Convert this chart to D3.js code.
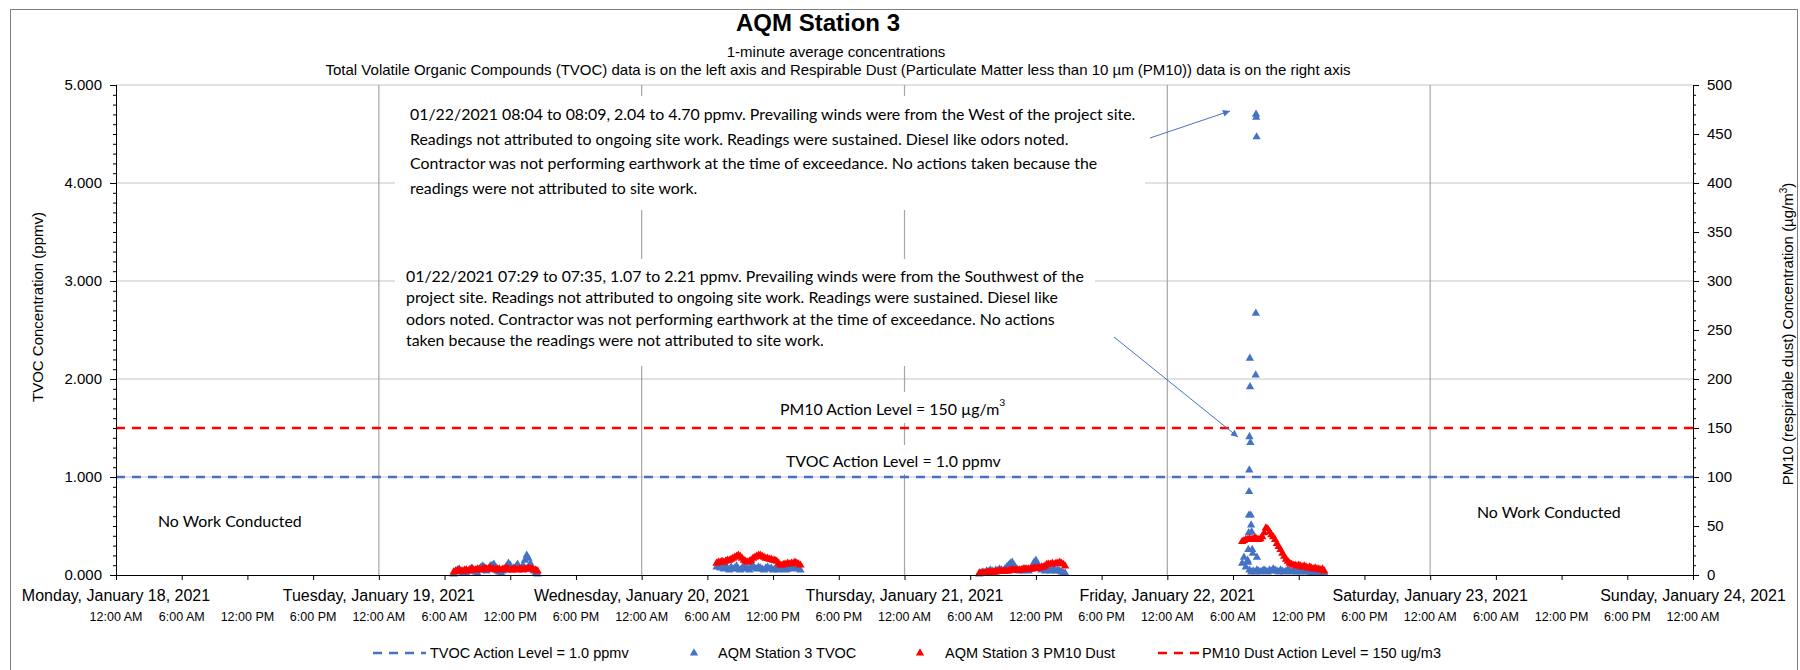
<!DOCTYPE html>
<html>
<head>
<meta charset="utf-8">
<script src="https://cdn.jsdelivr.net/npm/d3@7"></script>
<style>
  body { margin: 0; background: #fff; }
  text { font-family: "Liberation Sans", Arial, sans-serif; fill: #000; }
  .note { font-family: Lato, "Open Sans", sans-serif; }
</style>
</head>
<body>
<div id="chart"></div>
<script>
// ---------------- data ----------------
// days on the axis (midnights)
var dayStarts = ["2021-01-18", "2021-01-19", "2021-01-20", "2021-01-21", "2021-01-22", "2021-01-23", "2021-01-24"];

// work days, readings every 10 minutes starting at 06:50
var workDays = ["2021-01-19", "2021-01-20", "2021-01-21", "2021-01-22"];
var readingStart = "06:50";
var readingStepMin = 10;

// TVOC (ppmv)
var tvocJan19 = [0.01,0.03,0.05,0.06,0.04,0.02,0.03,0.02,0.04,0.06,0.07,0.05,0.03,0.02,0.05,0.08,0.09,0.07,0.04,0.06,0.09,0.10,0.11,0.08,0.04,0.03,0.02,0.04,0.06,0.09,0.12,0.10,0.06,0.07,0.08,0.11,0.07,0.06,0.10,0.15,0.20,0.17,0.12,0.07,0.04,0.02,0.01];
var tvocJan20 = [0.08,0.10,0.07,0.09,0.06,0.08,0.07,0.05,0.08,0.06,0.07,0.09,0.06,0.05,0.07,0.08,0.06,0.07,0.05,0.08,0.09,0.07,0.06,0.08,0.07,0.06,0.05,0.07,0.08,0.06,0.07,0.05,0.06,0.07,0.05,0.06,0.07,0.06,0.05,0.06,0.07,0.06,0.08,0.10,0.07,0.06,0.05];
var tvocJan21 = [0.01,0.02,0.03,0.02,0.04,0.03,0.05,0.04,0.03,0.05,0.04,0.06,0.05,0.04,0.06,0.08,0.10,0.12,0.13,0.10,0.07,0.05,0.04,0.05,0.04,0.06,0.05,0.04,0.06,0.09,0.13,0.15,0.11,0.07,0.05,0.06,0.04,0.05,0.06,0.04,0.05,0.06,0.04,0.05,0.04,0.03,0.02,0.02];
var tvocJan22 = [0.12,0.18,0.08,0.15,0.05,0.03,0.04,0.03,0.05,0.04,0.03,0.04,0.05,0.04,0.03,0.05,0.04,0.06,0.05,0.04,0.03,0.05,0.04,0.03,0.04,0.05,0.04,0.03,0.04,0.05,0.03,0.04,0.03,0.04,0.05,0.03,0.04,0.03,0.02,0.03,0.04,0.03,0.02,0.03,0.02,0.02];

// 1-minute TVOC readings around the two exceedances on 01/22
var tvocPeakTimes  = ["07:22","07:24","07:26","07:27","07:28","07:29","07:30","07:32","07:33","07:35","07:37","07:39","07:42","07:45","07:48","08:04","08:05","08:06","08:07","08:09","08:11"];
var tvocPeakValues = [0.13, 0.26, 0.43, 0.61, 0.85, 1.07, 1.41, 2.21, 1.92, 1.35, 0.61, 0.51, 0.44, 0.26, 0.22, 2.04, 2.67, 4.70, 4.67, 4.47, 0.18];

// PM10 (ug/m3)
var pm10Jan19 = [3,4,4,5,4,4,5,5,4,5,6,5,5,6,6,5,6,7,6,6,7,6,6,5,6,6,5,6,6,7,6,5,5,6,6,5,6,6,5,6,6,7,6,6,5,5,4];
var pm10Jan20 = [12,13,13,14,13,14,15,15,16,17,18,19,20,19,17,15,14,13,14,15,17,18,19,20,20,19,18,17,17,16,16,15,15,14,12,10,10,11,11,12,11,12,12,13,12,11,10];
var pm10Jan21 = [2,2,2,2,3,3,3,3,3,3,4,4,4,4,4,4,4,5,5,5,5,5,5,5,6,6,6,6,6,6,7,7,7,7,8,8,9,11,11,11,12,11,12,12,13,12,11,9];
var pm10Jan22 = [34,35,36,36,37,36,37,38,37,36,37,39,43,48,47,44,41,39,36,32,29,26,22,19,16,14,12,11,10,10,9,10,9,8,9,8,7,8,7,6,7,6,6,5,6,4];

var tvocActionLevel = 1.0;
var pm10ActionLevel = 150;

var leftTicks = [0, 1, 2, 3, 4, 5];
var rightTicks = [0, 50, 100, 150, 200, 250, 300, 350, 400, 450, 500];

var note1Lines = [
  "01/22/2021 08:04 to 08:09, 2.04 to 4.70 ppmv. Prevailing winds were from the West of the project site.",
  "Readings not attributed to ongoing site work. Readings were sustained. Diesel like odors noted.",
  "Contractor was not performing earthwork at the time of exceedance. No actions taken because the",
  "readings were not attributed to site work."
];
var note2Lines = [
  "01/22/2021 07:29 to 07:35, 1.07 to 2.21 ppmv. Prevailing winds were from the Southwest of the",
  "project site. Readings not attributed to ongoing site work. Readings were sustained. Diesel like",
  "odors noted. Contractor was not performing earthwork at the time of exceedance. No actions",
  "taken because the readings were not attributed to site work."
];
var legendLabels = ["TVOC Action Level = 1.0 ppmv", "AQM Station 3 TVOC", "AQM Station 3 PM10 Dust", "PM10 Dust Action Level = 150 ug/m3"];

(function(){

  var width = 1800, height = 670;
  var plot = {left: 116, right: 1693, top: 85, bottom: 575};
  var blue = "#4472C4", red = "#FF0000";

  var parseDay = d3.timeParse("%Y-%m-%d");
  var parseTime = d3.timeParse("%Y-%m-%d %H:%M");

  var svg = d3.select("#chart").append("svg")
    .attr("width", width)
    .attr("height", height);

  // outer chart border
  svg.append("rect")
    .attr("x", 10.5).attr("y", 9.5)
    .attr("width", 1787).attr("height", 700)
    .attr("fill", "none")
    .attr("stroke", "#7f7f7f");

  var days = dayStarts.map(parseDay);

  var x = d3.scaleTime()
    .domain([days[0], days[days.length - 1]])
    .range([plot.left, plot.right]);
  var yL = d3.scaleLinear().domain([0, 5]).range([plot.bottom, plot.top]);
  var yR = d3.scaleLinear().domain([0, 500]).range([plot.bottom, plot.top]);

  // turn the 10-minute arrays into points
  function toPoints(day, values) {
    var t0 = parseTime(day + " " + readingStart);
    return values.map(function(v, i) {
      return {t: d3.timeMinute.offset(t0, i * readingStepMin), v: v};
    });
  }
  var tvocSeries = [tvocJan19, tvocJan20, tvocJan21, tvocJan22];
  var pm10Series = [pm10Jan19, pm10Jan20, pm10Jan21, pm10Jan22];
  var tvocPoints = [], pm10Points = [];
  workDays.forEach(function(day, i) {
    tvocPoints = tvocPoints.concat(toPoints(day, tvocSeries[i]));
    pm10Points = pm10Points.concat(toPoints(day, pm10Series[i]));
  });
  tvocPeakTimes.forEach(function(t, i) {
    tvocPoints.push({t: parseTime("2021-01-22 " + t), v: tvocPeakValues[i]});
  });

  // gridlines
  svg.append("g").selectAll("line")
    .data(leftTicks.slice(1))
    .join("line")
    .attr("x1", plot.left).attr("x2", plot.right)
    .attr("y1", function(d){ return yL(d); })
    .attr("y2", function(d){ return yL(d); })
    .attr("stroke", "#d9d9d9")
    .attr("stroke-width", 1.3);

  svg.append("g").selectAll("line")
    .data(days.slice(1, -1))
    .join("line")
    .attr("x1", function(d){ return x(d); })
    .attr("x2", function(d){ return x(d); })
    .attr("y1", plot.top).attr("y2", plot.bottom)
    .attr("stroke", "#a6a6a6")
    .attr("stroke-width", 1.2);

  // white text boxes hide the gridlines behind the notes
  var boxes = [
    [395, 96, 750, 114],
    [395, 259, 700, 107],
    [772, 392, 240, 31],
    [772, 445, 240, 29]
  ];
  svg.append("g").selectAll("rect")
    .data(boxes)
    .join("rect")
    .attr("x", function(d){ return d[0]; })
    .attr("y", function(d){ return d[1]; })
    .attr("width", function(d){ return d[2]; })
    .attr("height", function(d){ return d[3]; })
    .attr("fill", "#fff");

  // action levels
  svg.append("line")
    .attr("x1", plot.left).attr("x2", plot.right)
    .attr("y1", yL(tvocActionLevel)).attr("y2", yL(tvocActionLevel))
    .attr("stroke", blue).attr("stroke-width", 2.5)
    .attr("stroke-dasharray", "9,7");
  svg.append("line")
    .attr("x1", plot.left).attr("x2", plot.right)
    .attr("y1", yR(pm10ActionLevel)).attr("y2", yR(pm10ActionLevel))
    .attr("stroke", red).attr("stroke-width", 2.5)
    .attr("stroke-dasharray", "9,7");

  // markers
  var tri = d3.symbol().type(d3.symbolTriangle).size(30);

  svg.append("g").selectAll("path")
    .data(tvocPoints)
    .join("path")
    .attr("d", tri)
    .attr("transform", function(d){ return "translate(" + x(d.t) + "," + yL(d.v) + ")"; })
    .attr("fill", blue);

  svg.append("g").selectAll("path")
    .data(pm10Points)
    .join("path")
    .attr("d", tri)
    .attr("transform", function(d){ return "translate(" + x(d.t) + "," + yR(d.v) + ")"; })
    .attr("fill", red);

  // axes
  function styleAxis(g, size) {
    g.select(".domain").attr("stroke", "#000");
    g.selectAll(".tick line").attr("stroke", "#000");
    g.selectAll(".tick text").style("font-size", size + "px").attr("fill", "#000");
  }

  svg.append("g")
    .attr("transform", "translate(" + plot.left + ",0)")
    .call(d3.axisLeft(yL).tickValues(d3.range(0, 51).map(function(d){ return d / 10; })).tickSize(3).tickFormat(""))
    .call(styleAxis, 15);
  svg.append("g")
    .attr("transform", "translate(" + plot.left + ",0)")
    .call(d3.axisLeft(yL).tickValues(leftTicks).tickSize(6).tickPadding(8).tickFormat(d3.format(".3f")))
    .call(styleAxis, 15);

  svg.append("g")
    .attr("transform", "translate(" + plot.right + ",0)")
    .call(d3.axisRight(yR).tickValues(d3.range(0, 51).map(function(d){ return d * 10; })).tickSize(3).tickFormat(""))
    .call(styleAxis, 15);
  svg.append("g")
    .attr("transform", "translate(" + plot.right + ",0)")
    .call(d3.axisRight(yR).tickValues(rightTicks).tickSize(6).tickPadding(8))
    .call(styleAxis, 15);

  var sixHours = d3.timeHour.every(6).range(days[0], d3.timeMinute.offset(days[days.length - 1], 1));
  svg.append("g")
    .attr("transform", "translate(0," + plot.bottom + ")")
    .call(d3.axisBottom(x).tickValues(sixHours).tickSize(5).tickFormat(""))
    .call(styleAxis, 12);

  var timeFmt = d3.timeFormat("%-I:%M %p");
  svg.append("g").selectAll("text")
    .data(sixHours)
    .join("text")
    .attr("x", function(d){ return x(d); })
    .attr("y", 621)
    .attr("text-anchor", "middle")
    .style("font-size", "12.5px")
    .text(function(d){ return timeFmt(d); });

  var dayFmt = d3.timeFormat("%A, %B %-d, %Y");
  svg.append("g").selectAll("text")
    .data(days)
    .join("text")
    .attr("x", function(d){ return x(d); })
    .attr("y", 601)
    .attr("text-anchor", "middle")
    .style("font-size", "16px")
    .text(function(d){ return dayFmt(d); });

  // axis titles
  svg.append("text")
    .attr("transform", "translate(43,307) rotate(-90)")
    .attr("text-anchor", "middle")
    .style("font-size", "15px")
    .text("TVOC Concentration (ppmv)");

  var rt = svg.append("text")
    .attr("transform", "translate(1793,334) rotate(-90)")
    .attr("text-anchor", "middle")
    .style("font-size", "15px");
  rt.append("tspan").text("PM10 (respirable dust) Concentration (µg/m");
  rt.append("tspan").attr("dy", -6).style("font-size", "10px").text("3");
  rt.append("tspan").attr("dy", 6).text(")");

  // titles
  svg.append("text")
    .attr("x", 818).attr("y", 31)
    .attr("text-anchor", "middle")
    .style("font-size", "24px").style("font-weight", "bold")
    .text("AQM Station 3");
  svg.append("text")
    .attr("x", 836).attr("y", 57)
    .attr("text-anchor", "middle")
    .style("font-size", "15px")
    .text("1-minute average concentrations");
  svg.append("text")
    .attr("x", 838).attr("y", 75)
    .attr("text-anchor", "middle")
    .style("font-size", "15px")
    .text("Total Volatile Organic Compounds (TVOC) data is on the left axis and Respirable Dust (Particulate Matter less than 10 µm (PM10)) data is on the right axis");

  // notes: fit the font so the first line has the width seen on the chart
  var probe = svg.append("text").attr("class", "note").style("font-size", "15px").text(note1Lines[0]);
  var noteSize = 15 * 726 / probe.node().getComputedTextLength();
  probe.remove();

  function noteText(lines, x0, y0, dy) {
    svg.append("g").selectAll("text")
      .data(lines)
      .join("text")
      .attr("class", "note")
      .attr("x", x0)
      .attr("y", function(d, i){ return y0 + i * dy; })
      .attr("dominant-baseline", "central")
      .style("font-size", noteSize + "px")
      .text(function(d){ return d; });
  }
  noteText(note1Lines, 410, 113.5, 24.5);
  noteText(note2Lines, 406, 275, 21.5);

  var pmLabel = svg.append("text").attr("class", "note")
    .attr("x", 780).attr("y", 408)
    .attr("dominant-baseline", "central")
    .style("font-size", noteSize + "px");
  pmLabel.append("tspan").text("PM10 Action Level = 150 µg/m");
  pmLabel.append("tspan").attr("dy", -6).style("font-size", (noteSize * 0.65) + "px").text("3");

  svg.append("text").attr("class", "note")
    .attr("x", 786).attr("y", 460)
    .attr("dominant-baseline", "central")
    .style("font-size", noteSize + "px")
    .text("TVOC Action Level = 1.0 ppmv");

  svg.append("text").attr("class", "note")
    .attr("x", 158).attr("y", 520)
    .attr("dominant-baseline", "central")
    .style("font-size", noteSize + "px")
    .text("No Work Conducted");
  svg.append("text").attr("class", "note")
    .attr("x", 1477).attr("y", 511)
    .attr("dominant-baseline", "central")
    .style("font-size", noteSize + "px")
    .text("No Work Conducted");

  // arrows
  svg.append("defs").append("marker")
    .attr("id", "head")
    .attr("viewBox", "0 0 10 10")
    .attr("refX", 10).attr("refY", 5)
    .attr("markerWidth", 9).attr("markerHeight", 7)
    .attr("markerUnits", "userSpaceOnUse")
    .attr("orient", "auto")
    .append("path")
    .attr("d", "M0,0L10,5L0,10z")
    .attr("fill", blue);

  [[1150, 138, 1230, 111], [1114, 337, 1238, 437]].forEach(function(a) {
    svg.append("line")
      .attr("x1", a[0]).attr("y1", a[1])
      .attr("x2", a[2]).attr("y2", a[3])
      .attr("stroke", blue).attr("stroke-width", 1)
      .attr("marker-end", "url(#head)");
  });

  // legend
  var ly = 653;
  var lg = svg.append("g").style("font-size", "14.5px");
  lg.append("line").attr("x1", 373).attr("x2", 426).attr("y1", ly).attr("y2", ly)
    .attr("stroke", blue).attr("stroke-width", 2.5).attr("stroke-dasharray", "9,7");
  lg.append("text").attr("x", 430).attr("y", ly).attr("dominant-baseline", "central").text(legendLabels[0]);
  lg.append("path").attr("d", tri).attr("transform", "translate(694," + ly + ")").attr("fill", blue);
  lg.append("text").attr("x", 718).attr("y", ly).attr("dominant-baseline", "central").text(legendLabels[1]);
  lg.append("path").attr("d", tri).attr("transform", "translate(920," + ly + ")").attr("fill", red);
  lg.append("text").attr("x", 945).attr("y", ly).attr("dominant-baseline", "central").text(legendLabels[2]);
  lg.append("line").attr("x1", 1158).attr("x2", 1199).attr("y1", ly).attr("y2", ly)
    .attr("stroke", red).attr("stroke-width", 2.5).attr("stroke-dasharray", "9,7");
  lg.append("text").attr("x", 1202).attr("y", ly).attr("dominant-baseline", "central").text(legendLabels[3]);

})()
</script>
</body>
</html>
